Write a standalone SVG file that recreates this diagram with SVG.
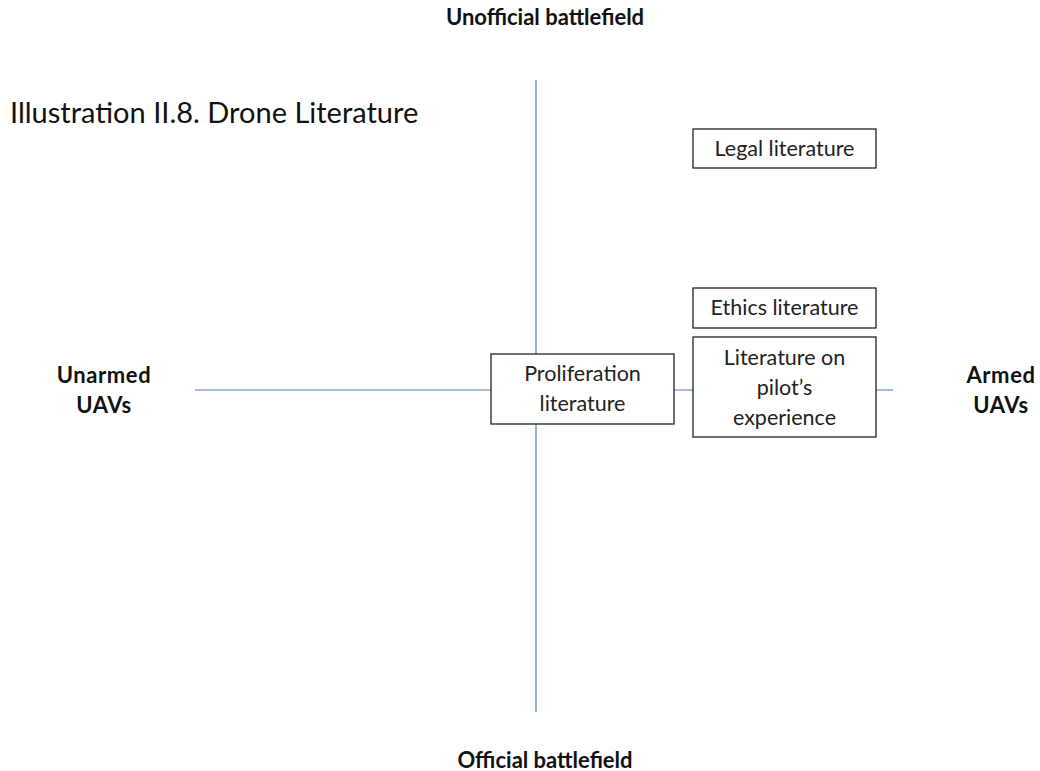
<svg xmlns="http://www.w3.org/2000/svg" width="1040" height="771" viewBox="0 0 1040 771">
<style>
.ax{stroke:#4a7ebb;stroke-width:1.2;fill:none}
.box{fill:#fff;stroke:#222;stroke-width:1.3}
.t{font-family:Lato,"Open Sans","Liberation Sans",sans-serif;font-size:21.5px;fill:#222;text-anchor:middle}
.b{font-family:Lato,"Open Sans","Liberation Sans",sans-serif;font-size:22px;font-weight:bold;fill:#111;text-anchor:middle;letter-spacing:0.6px}
.bt{letter-spacing:0}
</style>
<rect width="1040" height="771" fill="#fff"/>
<g id="connectors">
<line class="ax" x1="536" y1="80" x2="536" y2="712"/>
<line class="ax" x1="195" y1="390" x2="893" y2="390"/>
</g>
<text x="10" y="123" font-family="Lato,'Open Sans','Liberation Sans',sans-serif" font-size="29" fill="#111">Illustration II.8. Drone Literature</text>
<g id="unofficial"><text class="b bt" x="545" y="25">Unofficial battlefield</text></g>
<g id="official"><text class="b bt" x="545" y="768">Official battlefield</text></g>
<g id="unarmed"><text class="b" x="104" y="383">Unarmed</text><text class="b" x="104" y="413">UAVs</text></g>
<g id="armed"><text class="b" x="1001" y="383">Armed</text><text class="b" x="1001" y="413">UAVs</text></g>
<g id="legal"><rect class="box" x="693" y="129" width="183" height="39"/><text class="t" x="784.5" y="156">Legal literature</text></g>
<g id="ethics"><rect class="box" x="693" y="288" width="183" height="40"/><text class="t" x="784.5" y="315">Ethics literature</text></g>
<g id="pilot"><rect class="box" x="693" y="337" width="183" height="100"/><text class="t" x="784.5" y="365">Literature on</text><text class="t" x="784.5" y="395">pilot’s</text><text class="t" x="784.5" y="425">experience</text></g>
<g id="proliferation"><rect class="box" x="491" y="354" width="183" height="70"/><text class="t" x="582.5" y="381">Proliferation</text><text class="t" x="582.5" y="411">literature</text></g>
</svg>
